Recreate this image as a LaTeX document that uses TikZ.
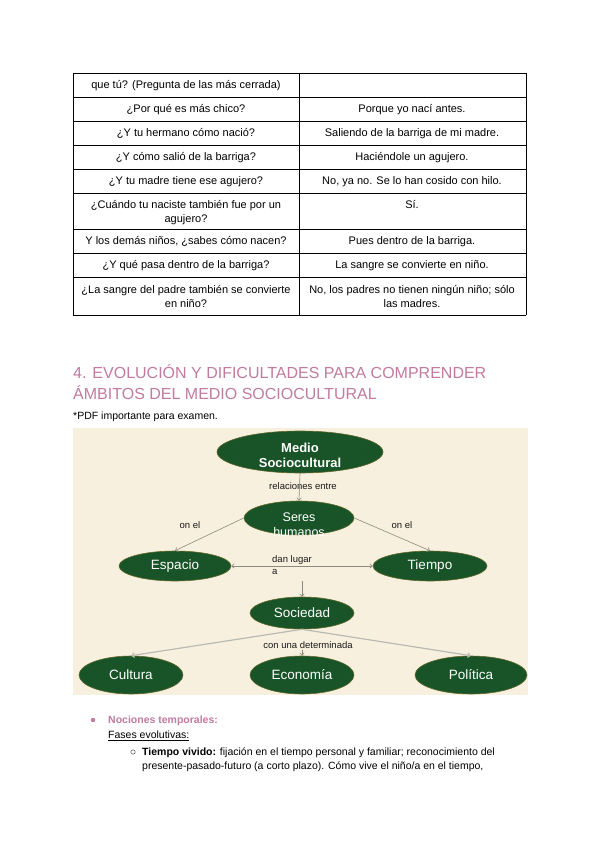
\documentclass[tikz,border=0pt]{standalone}
\usepackage{fontspec}
\setmainfont{Liberation Sans}
\usetikzlibrary{arrows.meta,positioning,shapes.geometric}

\definecolor{titlepink}{RGB}{194,123,160}
\definecolor{conceptgreen}{RGB}{24,84,40}
\definecolor{conceptedge}{RGB}{96,104,44}
\definecolor{paper}{RGB}{248,240,222}
\definecolor{linkgray}{RGB}{140,138,126}

\tikzset{
  body/.style={anchor=base west, inner sep=0pt, font=\fontsize{10.5}{13}\selectfont},
  cell/.style={body, anchor=base, font=\fontsize{11}{13}\selectfont},
  concept/.style={ellipse, fill=conceptgreen, draw=conceptedge, line width=0.6pt,
    inner sep=0pt, text=white, font=\fontsize{13.5}{15}\selectfont},
  linktext/.style={inner sep=1pt, font=\fontsize{9.5}{12}\selectfont, text=black!90},
  link/.style={draw=linkgray, line width=0.6pt, ->},
}

\begin{document}
\begin{tikzpicture}[x=1pt, y=-1pt, >={Straight Barb[length=2.5pt,width=4.5pt]}]
  \fill[white] (0,0) rectangle (600,848);
  \useasboundingbox (0,0) rectangle (600,848);

  % 表格
  \begin{scope}
    \foreach \y in {73,97,121,145,169,193,229,253,277,315}
      \draw[line width=0.8pt] (73,\y) -- (526,\y);
    \foreach \x in {73,299,526}
      \draw[line width=0.8pt] (\x,73) -- (\x,315);
    \node[cell] (q1) at (186,88.5) {que tú? (Pregunta de las más cerrada)};
    \node[cell] (q2) at (186,112.5) {¿Por qué es más chico?};
    \node[cell] (a2) at (412,112.5) {Porque yo nací antes.};
    \node[cell] (q3) at (186,136.5) {¿Y tu hermano cómo nació?};
    \node[cell] (a3) at (412,136.5) {Saliendo de la barriga de mi madre.};
    \node[cell] (q4) at (186,160.5) {¿Y cómo salió de la barriga?};
    \node[cell] (a4) at (412,160.5) {Haciéndole un agujero.};
    \node[cell] (q5) at (186,184.5) {¿Y tu madre tiene ese agujero?};
    \node[cell] (a5) at (412,184.5) {No, ya no. Se lo han cosido con hilo.};
    \node[cell] (q6) at (186,208.5) {¿Cuándo tu naciste también fue por un};
    \node[cell] (q6b) at (186,222.5) {agujero?};
    \node[cell] (a6) at (412,208.5) {Sí.};
    \node[cell] (q7) at (186,244.5) {Y los demás niños, ¿sabes cómo nacen?};
    \node[cell] (a7) at (412,244.5) {Pues dentro de la barriga.};
    \node[cell] (q8) at (186,268.5) {¿Y qué pasa dentro de la barriga?};
    \node[cell] (a8) at (412,268.5) {La sangre se convierte en niño.};
    \node[cell] (q9) at (186,293.5) {¿La sangre del padre también se convierte};
    \node[cell] (q9b) at (186,307.5) {en niño?};
    \node[cell] (a9) at (412,293.5) {No, los padres no tienen ningún niño; sólo};
    \node[cell] (a9b) at (412,307.5) {las madres.};
  \end{scope}

  % 标题
  \node[body, font=\fontsize{16}{21}\selectfont, text=titlepink] (title1) at (73,378)
    {4. EVOLUCIÓN Y DIFICULTADES PARA COMPRENDER};
  \node[body, font=\fontsize{16}{21}\selectfont, text=titlepink] (title2) at (73,399)
    {ÁMBITOS DEL MEDIO SOCIOCULTURAL};
  \node[body] (nota) at (73,419.5) {*PDF importante para examen.};

  % 概念图
  \begin{scope}
    \fill[paper] (73,428) rectangle (528,695);
    \node[concept, minimum width=166, minimum height=42,
      label={[text=white, align=center, yshift=-3pt, font=\bfseries\fontsize{13}{15}\selectfont]center:Medio\\Sociocultural}]
      (medio) at (300,452) {};
    \node[concept, minimum width=110, minimum height=34,
      label={[text=white, align=center, yshift=-7pt, font=\fontsize{12.5}{15}\selectfont]center:Seres\\humanos}]
      (seres) at (299,518) {};
    \node[concept, minimum width=112, minimum height=30] (espacio) at (175,566) {Espacio};
    \node[concept, minimum width=114, minimum height=30] (tiempo) at (430,566) {Tiempo};
    \node[concept, minimum width=104, minimum height=32] (sociedad) at (302,613) {Sociedad};
    \node[concept, minimum width=104, minimum height=38] (cultura) at (131,675) {Cultura};
    \node[concept, minimum width=104, minimum height=38] (economia) at (302,675) {Economía};
    \node[concept, minimum width=112, minimum height=38] (politica) at (471,675) {Política};

    \node[linktext] (relaciones) at (303,486) {relaciones entre};
    \node[linktext] (onel1) at (190,525) {on el};
    \node[linktext] (onel2) at (402,525) {on el};
    \node[linktext, align=left, anchor=west] (danlugar) at (271,565) {dan lugar\\a};
    \node[linktext] (determinada) at (308,645) {con una determinada};

    \draw[link] (medio.south) -- (seres.north);
    \draw[link] (seres.west) -- (espacio.north);
    \draw[link] (seres.east) -- (tiempo.north);
    \draw[link, <->] (espacio.east) -- (tiempo.west);
    \draw[link] ([yshift=-5pt]danlugar.south -| sociedad.north) -- (sociedad.north);
    \draw[link, line width=1.2pt, draw=linkgray!60] (sociedad.south) -- (cultura.north);
    \draw[link, line width=1.2pt, draw=linkgray!60] (sociedad.south) -- (politica.north);
    \draw[link] (determinada.south -| economia.north) -- (economia.north);
  \end{scope}

  % 列表
  \fill[titlepink] (93,720) circle (2.2);
  \node[body, font=\bfseries\fontsize{10.5}{13}\selectfont, text=titlepink] (nociones) at (108,723.5)
    {Nociones temporales:};
  \node[body] (fases) at (108,738.5) {\underline{Fases evolutivas:}};
  \draw[black!70, line width=0.5pt] (133,752) circle (2.2);
  \node[body] (vivido) at (142,755.5)
    {\textbf{Tiempo vivido:} fijación en el tiempo personal y familiar; reconocimiento del};
  \node[body] (presente) at (142,769.5)
    {presente-pasado-futuro (a corto plazo). Cómo vive el niño/a en el tiempo,};
\end{tikzpicture}
\end{document}
